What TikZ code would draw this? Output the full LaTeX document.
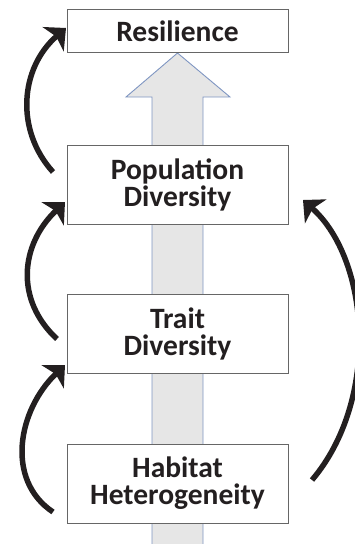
\documentclass[tikz,border=0pt]{standalone}
\usepackage{fontspec}
\setmainfont{Carlito}
\usetikzlibrary{arrows.meta}
\definecolor{boxline}{HTML}{666666}
\definecolor{arrfill}{HTML}{E6E6E6}
\definecolor{arrline}{HTML}{7F96C2}
\definecolor{ink}{HTML}{231F20}
\begin{document}
\begin{tikzpicture}[x=1pt,y=-1pt,
  box/.style={draw=boxline, line width=1pt, fill=white, minimum width=221pt,
    inner sep=0pt, align=center, text=ink,
    font=\fontsize{29.5}{27}\selectfont\bfseries},
  loop/.style={draw=ink, line width=5.5pt,
    -{Stealth[length=17pt,width=32pt,inset=4pt]}}]
\useasboundingbox (0,0) rectangle (354,544);
% big background arrow
\path[fill=arrfill] (152,544) -- (152,97) -- (126,97) -- (177.5,53) -- (230,97) -- (203,97) -- (203,544) -- cycle;
\draw[arrline, line width=0.9pt, line join=miter] (152,544) -- (152,97) -- (126,97) -- (177.5,53) -- (230,97) -- (203,97) -- (203,544);
% boxes
\node[box, minimum height=43pt] (res) at (177.5,31) {Resilience};
\node[box, minimum height=79pt] (pop) at (177.5,184.5) {Population\\Diversity};
\node[box, minimum height=79pt] (trait) at (177.5,333.5) {Trait\\Diversity};
\node[box, minimum height=79pt] (hab) at (177.5,483.5) {Habitat\\Heterogeneity};
% curved arrow end points
\coordinate (a1s) at (53,172);
\coordinate (a1e) at (66,28);
\coordinate (a2s) at (57,339);
\coordinate (a2e) at (65,202);
\coordinate (a3s) at (53,512);
\coordinate (a3e) at (65,365);
\coordinate (a4s) at (312,480);
\coordinate (a4e) at (303,200);
\draw[loop] (a1s) .. controls (15,130) and (20,68) .. (a1e);
\draw[loop] (a2s) .. controls (15,300) and (20,245) .. (a2e);
\draw[loop] (a3s) .. controls (5,480) and (18,410) .. (a3e);
\draw[loop] (a4s) .. controls (380,400) and (370,260) .. (a4e);
\end{tikzpicture}
\end{document}
